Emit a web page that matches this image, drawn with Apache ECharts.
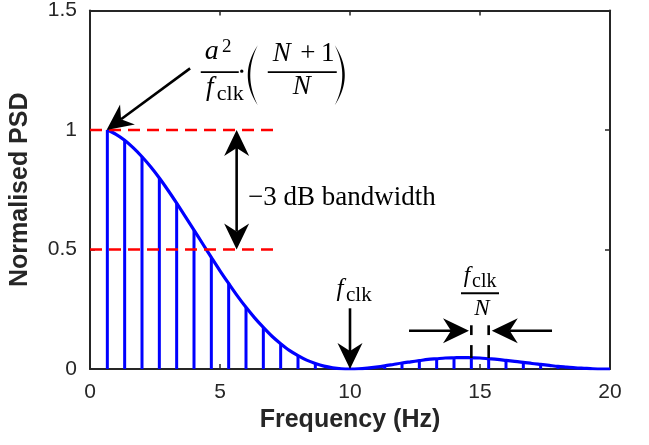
<!DOCTYPE html>
<html>
<head>
<meta charset="utf-8">
<script src="https://cdn.jsdelivr.net/npm/echarts@6/dist/echarts.min.js"></script>
<style>
  html, body { margin: 0; padding: 0; background: #fff; }
  #chart { width: 649px; height: 445px; }
</style>
</head>
<body>
<div id="chart"></div>
<script>
// Axis ticks
const xTicks = [0, 5, 10, 15, 20];
const yTicks = [0, 0.5, 1, 1.5];

// Spectral lines at multiples of f_clk/N (f_clk = 10 Hz, N = 15)
const lineFreqs = [0.667, 1.333, 2, 2.667, 3.333, 4, 4.667, 5.333, 6, 6.667, 7.333, 8, 8.667, 9.333, 10,
  10.667, 11.333, 12, 12.667, 13.333, 14, 14.667, 15.333, 16, 16.667, 17.333, 18, 18.667, 19.333];
const linePower = [1.000, 0.957, 0.888, 0.799, 0.694, 0.581, 0.467, 0.358, 0.258, 0.174, 0.106, 0.056, 0.023, 0.005, 0,
  0.004, 0.013, 0.025, 0.035, 0.043, 0.047, 0.047, 0.043, 0.036, 0.028, 0.019, 0.011, 0.005, 0.001];

// Continuous PSD envelope
const envFreqs = [0.667, 1, 1.333, 1.667, 2, 2.333, 2.667, 3, 3.333, 3.667, 4, 4.333, 4.667, 5, 5.333, 5.667,
  6, 6.333, 6.667, 7, 7.333, 7.667, 8, 8.333, 8.667, 9, 9.333, 9.667, 10, 10.333, 10.667, 11, 11.333, 11.667,
  12, 12.333, 12.667, 13, 13.333, 13.667, 14, 14.333, 14.667, 15, 15.333, 15.667, 16, 16.333, 16.667, 17,
  17.333, 17.667, 18, 18.333, 18.667, 19, 19.333, 19.667, 20];
const envPower = [1.000, 0.982, 0.957, 0.925, 0.888, 0.846, 0.799, 0.748, 0.694, 0.638, 0.581, 0.524, 0.467, 0.411,
  0.358, 0.306, 0.258, 0.214, 0.174, 0.137, 0.106, 0.078, 0.056, 0.037, 0.023, 0.012, 0.005, 0.001, 0, 0.001,
  0.004, 0.008, 0.013, 0.019, 0.025, 0.030, 0.035, 0.040, 0.043, 0.046, 0.047, 0.048, 0.047, 0.046, 0.043,
  0.040, 0.036, 0.032, 0.028, 0.023, 0.019, 0.015, 0.011, 0.008, 0.005, 0.003, 0.001, 0.000, 0];

// Reference levels (peak and half power) and their extent along frequency
const refLevels = [1, 0.5];
const refSpan = [0, 7.2];

const AXIS = '#262626';
const BLUE = '#0000ff';
const RED = '#ff0000';
const SANS = '"Liberation Sans", Arial, Helvetica, sans-serif';
const SERIF = '"Liberation Serif", "DejaVu Serif", serif';

const stemData = lineFreqs.map((f, i) => [f, linePower[i]]);
const envData = envFreqs.map((f, i) => [f, envPower[i]]);

const axisCommon = {
  type: 'value',
  axisLine: { show: true, onZero: false, lineStyle: { color: AXIS, width: 2 } },
  axisTick: { show: true, inside: true, length: 5, lineStyle: { color: AXIS, width: 1.5 } },
  splitLine: { show: false },
  axisLabel: { color: AXIS, fontSize: 21, fontFamily: SANS, margin: 13 }
};

const option = {
  animation: false,
  backgroundColor: '#fff',
  grid: { left: 90, right: 39, top: 9, bottom: 76 },
  xAxis: [
    Object.assign({}, axisCommon, {
      min: xTicks[0], max: xTicks[xTicks.length - 1], interval: xTicks[1] - xTicks[0],
      name: 'Frequency (Hz)', nameLocation: 'middle', nameGap: 35,
      nameTextStyle: { color: AXIS, fontSize: 25, fontWeight: 'bold', fontFamily: SANS }
    }),
    Object.assign({}, axisCommon, {
      position: 'top',
      min: xTicks[0], max: xTicks[xTicks.length - 1], interval: xTicks[1] - xTicks[0],
      axisLabel: { show: false }
    })
  ],
  yAxis: [
    Object.assign({}, axisCommon, {
      min: yTicks[0], max: yTicks[yTicks.length - 1], interval: yTicks[1] - yTicks[0],
      name: 'Normalised PSD', nameLocation: 'middle', nameGap: 57, nameRotate: 90,
      nameTextStyle: { color: AXIS, fontSize: 25, fontWeight: 'bold', fontFamily: SANS }
    }),
    Object.assign({}, axisCommon, {
      position: 'right',
      min: yTicks[0], max: yTicks[yTicks.length - 1], interval: yTicks[1] - yTicks[0],
      axisLabel: { show: false }
    })
  ],
  series: [
    {
      name: 'lines',
      type: 'custom',
      xAxisIndex: 0, yAxisIndex: 0,
      data: stemData,
      clip: true,
      z: 2,
      renderItem: function (params, api) {
        const base = api.coord([api.value(0), 0]);
        const top = api.coord([api.value(0), api.value(1)]);
        return {
          type: 'line',
          shape: { x1: base[0], y1: base[1], x2: top[0], y2: top[1] },
          style: { stroke: BLUE, lineWidth: 3 }
        };
      }
    },
    {
      name: 'envelope',
      type: 'line',
      xAxisIndex: 0, yAxisIndex: 0,
      data: envData,
      smooth: 0.3,
      showSymbol: false,
      symbol: 'none',
      clip: true,
      z: 3,
      lineStyle: { color: BLUE, width: 3.2 }
    }
  ].concat(refLevels.map(lv => ({
    name: 'ref' + lv,
    type: 'line',
    xAxisIndex: 0, yAxisIndex: 0,
    data: [[refSpan[0], lv], [refSpan[1], lv]],
    symbol: 'none',
    z: 4,
    lineStyle: { color: RED, width: 2.6, type: [12, 7] }
  })))
};

const chart = echarts.init(document.getElementById('chart'), null, { renderer: 'canvas' });
chart.setOption(option);

// ---- annotations ----
const P = (x, y) => chart.convertToPixel({ gridIndex: 0 }, [x, y]);
const Z = 50;

function head(tip, ux, uy, L, W, notch) {
  const nx = -uy, ny = ux;
  const bx = tip[0] - ux * L, by = tip[1] - uy * L;
  return {
    type: 'polygon', z: Z,
    shape: { points: [tip, [bx + nx * W / 2, by + ny * W / 2],
      [tip[0] - ux * (L - notch), tip[1] - uy * (L - notch)], [bx - nx * W / 2, by - ny * W / 2]] },
    style: { fill: '#000' }
  };
}

function arrow(from, to, both) {
  const L = 26, W = 25, notch = 8;
  const dx = to[0] - from[0], dy = to[1] - from[1], len = Math.hypot(dx, dy);
  const ux = dx / len, uy = dy / len;
  const end = [to[0] - ux * (L - notch), to[1] - uy * (L - notch)];
  const start = both ? [from[0] + ux * (L - notch), from[1] + uy * (L - notch)] : from;
  const els = [
    { type: 'line', z: Z, shape: { x1: start[0], y1: start[1], x2: end[0], y2: end[1] },
      style: { stroke: '#000', lineWidth: 2.6 } },
    head(to, ux, uy, L, W, notch)
  ];
  if (both) els.push(head(from, -ux, -uy, L, W, notch));
  return els;
}

// text placed by its baseline
function txt(text, x, baseline, size, opts) {
  opts = opts || {};
  return {
    type: 'text', z: Z, x: x, y: baseline - 0.34 * size,
    style: {
      text: text,
      font: (opts.italic ? 'italic ' : '') + size + 'px ' + (opts.family || SERIF),
      fill: '#000',
      align: opts.align || 'center',
      verticalAlign: 'middle'
    }
  };
}

function bar(x1, x2, y) {
  return { type: 'line', z: Z, shape: { x1: x1, y1: y, x2: x2, y2: y }, style: { stroke: '#000', lineWidth: 1.8 } };
}

// tall bracket as a crescent: outer and inner quadratic arcs between the same end points
function paren(xEnd, yTop, yBot, bulgeOuter, bulgeInner) {
  const q = (t, c) => {
    const x = (1 - t) * (1 - t) * xEnd + 2 * t * (1 - t) * c + t * t * xEnd;
    const y = (1 - t) * (1 - t) * yTop + 2 * t * (1 - t) * ((yTop + yBot) / 2) + t * t * yBot;
    return [x, y];
  };
  const pts = [];
  for (let i = 0; i <= 24; i++) pts.push(q(i / 24, xEnd + bulgeOuter));
  for (let i = 24; i >= 0; i--) pts.push(q(i / 24, xEnd + bulgeInner));
  return { type: 'polygon', z: Z, shape: { points: pts }, style: { fill: '#000' } };
}

const els = [];

// peak-level formula and its arrow to the first spectral line
const fTip = P(lineFreqs[0] - 0.03, linePower[0]);
const fTail = P(3.85, 1.258);
els.push(...arrow(fTail, fTip));
const o = P(4.26, 1.242); // left end of the first fraction bar
const ox = o[0], oy = o[1];
els.push(txt('a', ox + 11, oy - 11, 28, { italic: true }));
els.push(txt('2', ox + 26, oy - 19, 19));
els.push(bar(ox, ox + 38, oy));
els.push(txt('f', ox + 9, oy + 25, 27, { italic: true }));
els.push(txt('clk', ox + 16, oy + 30, 22, { align: 'left' }));
els.push({ type: 'circle', z: Z, shape: { cx: ox + 41, cy: oy - 1, r: 1.7 }, style: { fill: '#000' } });
els.push(paren(ox + 57, oy - 27, oy + 33, -20, -15));
els.push(paren(ox + 134, oy - 27, oy + 33, 20, 15));
els.push(txt('N', ox + 81, oy - 9, 27, { italic: true }));
els.push(txt('+', ox + 107, oy - 9, 27));
els.push(txt('1', ox + 127, oy - 9, 27));
els.push(bar(ox + 67, ox + 136, oy));
els.push(txt('N', ox + 101, oy + 24, 27, { italic: true }));

// -3 dB bandwidth
els.push(...arrow(P(5.64, refLevels[0]), P(5.64, refLevels[1]), true));
const bw = P(6.08, 0.678);
els.push(txt('\u22123 dB bandwidth', bw[0], bw[1], 27, { align: 'left' }));

// f_clk marker at the first null
els.push(...arrow(P(10, 0.254), P(10, 0)));
const fc = P(10, 0.3);
els.push(txt('f', fc[0] - 10, fc[1] + 1, 25, { italic: true }));
els.push(txt('clk', fc[0] - 4, fc[1] + 5, 21, { align: 'left' }));

// line spacing f_clk / N
const gA = lineFreqs[21], gB = lineFreqs[22];
[gA, gB].forEach(g => {
  const a1 = P(g, 0.183), a2 = P(g, 0.142), b1 = P(g, 0.1), b2 = P(g, 0.046);
  els.push({ type: 'line', z: Z, shape: { x1: a1[0], y1: a1[1], x2: a2[0], y2: a2[1] }, style: { stroke: '#000', lineWidth: 2.6 } });
  els.push({ type: 'line', z: Z, shape: { x1: b1[0], y1: b1[1], x2: b2[0], y2: b2[1] }, style: { stroke: '#000', lineWidth: 2.6 } });
});
els.push(...arrow(P(12.27, 0.16), P(gA - 0.09, 0.16)));
els.push(...arrow(P(17.77, 0.16), P(gB + 0.12, 0.16)));
const sp = P((gA + gB) / 2, 0.317);
els.push(txt('f', sp[0] - 13, sp[1] - 9, 23, { italic: true }));
els.push(txt('clk', sp[0] - 8, sp[1] - 5, 20, { align: 'left' }));
els.push(bar(sp[0] - 19, sp[0] + 19, sp[1]));
els.push(txt('N', sp[0] + 2, sp[1] + 24, 23, { italic: true }));

chart.setOption({ graphic: els });
</script>
</body>
</html>
